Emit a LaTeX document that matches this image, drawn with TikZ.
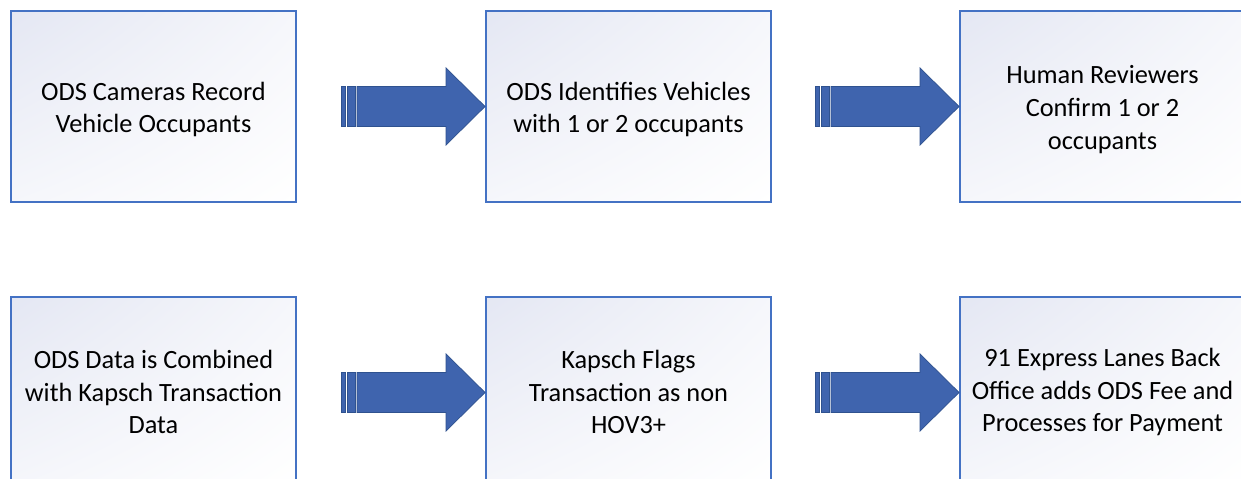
\documentclass[tikz,border=0pt]{standalone}
\usepackage{fontspec}
\setmainfont{Carlito}
\usetikzlibrary{shadings}
\definecolor{boxline}{HTML}{4472C4}
\definecolor{arrowfill}{HTML}{3F64AE}
\definecolor{arrowline}{HTML}{2F528F}
\definecolor{shadetop}{HTML}{E4E7F3}
\tikzset{
  stepbox/.style={rectangle, draw=boxline, line width=1.1pt,
    minimum width=5.7cm, minimum height=3.82cm, inner sep=0pt,
    upper left=shadetop, upper right=shadetop!35!white,
    lower left=shadetop!35!white, lower right=white},
  boxtext/.style={align=center, font=\fontsize{15}{18.7}\selectfont, text=black, inner sep=0pt},
  arrowstyle/.style={fill=arrowfill, draw=arrowline, line width=0.4pt, line join=miter}
}
\newcommand{\stripedarrow}[1]{%
  \begin{scope}[shift={(#1)}]
    \filldraw[arrowstyle] (-144,-20) rectangle (-139.5,20);
    \filldraw[arrowstyle] (-137.5,-20) rectangle (-130,20);
    \filldraw[arrowstyle] (-128,-20) -- (-39,-20) -- (-39,-38.5) -- (0,0)
      -- (-39,38.5) -- (-39,20) -- (-128,20) -- cycle;
  \end{scope}}
\begin{document}
\begin{tikzpicture}[x=0.02cm, y=-0.02cm]
  \useasboundingbox (0,0) rectangle (1241,479);
  \clip (0,0) rectangle (1241,479);
  \fill[white] (0,0) rectangle (1241,479);
  \node[stepbox] (b1) at (153.5,106.5) {};
  \node[stepbox] (b2) at (628.5,106.5) {};
  \node[stepbox] (b3) at (1102.5,106.5) {};
  \node[stepbox] (b4) at (153.5,392.5) {};
  \node[stepbox] (b5) at (628.5,392.5) {};
  \node[stepbox] (b6) at (1102.5,392.5) {};
  \node[boxtext, yshift=-0.06cm] (t1) at (b1.center) {ODS Cameras Record\\Vehicle Occupants};
  \node[boxtext, yshift=-0.06cm] (t2) at (b2.center) {ODS Identifies Vehicles\\with 1 or 2 occupants};
  \node[boxtext, yshift=-0.06cm] (t3) at (b3.center) {Human Reviewers\\Confirm 1 or 2\\occupants};
  \node[boxtext, yshift=0.01cm] (t4) at (b4.center) {ODS Data is Combined\\with Kapsch Transaction\\Data};
  \node[boxtext, yshift=0.01cm] (t5) at (b5.center) {Kapsch Flags\\Transaction as non\\HOV3+};
  \node[boxtext, yshift=0.01cm] (t6) at (b6.center) {91 Express Lanes Back\\Office adds ODS Fee and\\Processes for Payment};
  \stripedarrow{b2.west}
  \stripedarrow{b3.west}
  \stripedarrow{b5.west}
  \stripedarrow{b6.west}
\end{tikzpicture}
\end{document}
